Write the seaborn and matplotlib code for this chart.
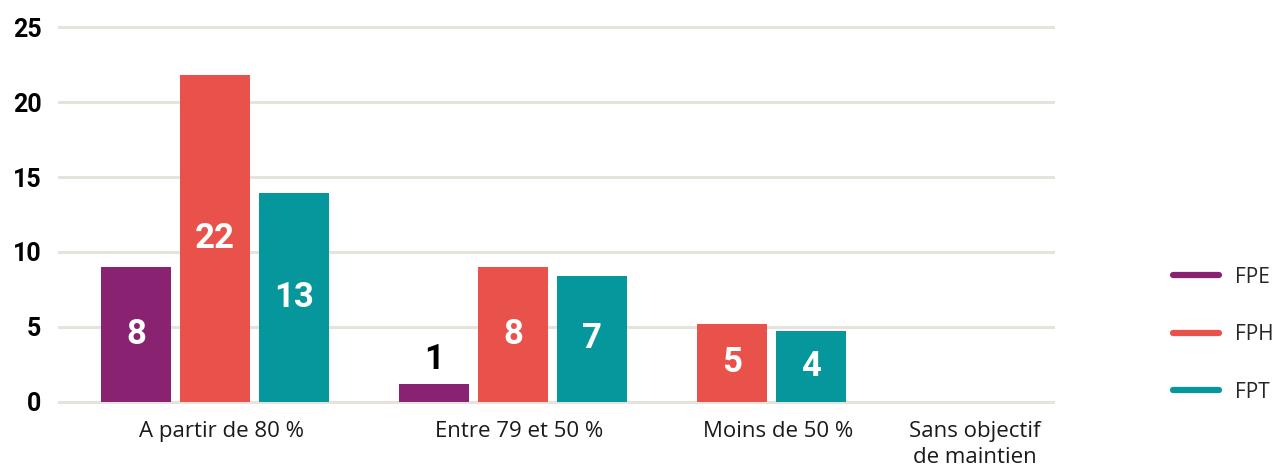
import matplotlib
matplotlib.use("Agg")
import matplotlib.pyplot as plt
from matplotlib.lines import Line2D
import pandas as pd
import seaborn as sns

# Values (bar heights differ a bit from the printed labels)
categories = ["A partir de 80 %", "Entre 79 et 50 %", "Moins de 50 %", "Sans objectif\nde maintien"]
series = ["FPE", "FPH", "FPT"]
fpe_heights = [9.0, 1.2, None, None]
fph_heights = [21.8, 9.0, 5.2, None]
fpt_heights = [13.95, 8.4, 4.75, None]
fpe_labels = [8, 1, None, None]
fph_labels = [22, 8, 5, None]
fpt_labels = [13, 7, 4, None]

colors = {"FPE": "#8a2272", "FPH": "#e9524a", "FPT": "#05979c"}
grid_color = "#e6e3dc"

heights = {"FPE": fpe_heights, "FPH": fph_heights, "FPT": fpt_heights}
labels = {"FPE": fpe_labels, "FPH": fph_labels, "FPT": fpt_labels}

# Missing bars are dropped and the remaining ones packed together,
# with an extra gap between groups.
group_gap = 0.77
rows = []
tick_pos = []
cursor = 0.0
for i, cat in enumerate(categories):
    slots = []
    for s in series:
        h = heights[s][i]
        if h is None:
            continue
        rows.append({"pos": cursor, "value": h, "serie": s, "label": labels[s][i]})
        slots.append(cursor)
        cursor += 1
    if slots:
        tick_pos.append(sum(slots) / len(slots) + 0.08)
    else:
        tick_pos.append(cursor + 0.3)
        cursor += 1
    cursor += group_gap
df = pd.DataFrame(rows)

sns.set_theme(style="white")
plt.rcParams["font.family"] = ["Roboto", "DejaVu Sans"]

fig = plt.figure(figsize=(12.78, 4.68), dpi=100)
ax = fig.add_axes([0.0454, 0.1363, 0.7801, 0.8107])

sns.barplot(data=df, x="pos", y="value", hue="serie", hue_order=series,
            palette=colors, native_scale=True, dodge=False, width=0.886,
            errorbar=None, legend=False, saturation=1, linewidth=0, ax=ax, zorder=3)

for _, r in df.iterrows():
    if r["value"] < 3:
        ax.text(r["pos"], r["value"] + 0.5, str(r["label"]), ha="center", va="bottom",
                fontsize=25, fontweight="bold", color="black", zorder=4)
    else:
        ax.text(r["pos"], r["value"] / 2, str(r["label"]), ha="center", va="center",
                fontsize=25, fontweight="bold", color="white", zorder=4)

ax.set_ylim(-0.15, 25.15)
ax.set_xlim(-0.987, 11.63)
ax.set_yticks([0, 5, 10, 15, 20, 25])
ax.yaxis.grid(True, color=grid_color, linewidth=2.2, zorder=0)
ax.set_axisbelow(True)
for sp in ax.spines.values():
    sp.set_visible(False)
ax.tick_params(axis="both", length=0)
ax.tick_params(axis="y", pad=12)
for t in ax.get_yticklabels():
    t.set_fontsize(18)
    t.set_fontweight("bold")
    t.set_color("black")

ax.set_xticks(tick_pos)
ax.set_xticklabels(categories, fontsize=16, color="#1a1a1a", family=["Open Sans", "DejaVu Sans"],
                   linespacing=1.3)
ax.tick_params(axis="x", pad=12)
ax.set_xlabel("")
ax.set_ylabel("")

handles = [Line2D([0], [0], color=colors[s], lw=4.5, solid_capstyle="round") for s in series]
leg = fig.legend(handles, series, loc="center left", bbox_to_anchor=(0.903, 0.285),
                 frameon=False, handlelength=2.2, handletextpad=0.8, labelspacing=1.75,
                 prop={"family": "Open Sans", "size": 15})

fig.savefig("out.png", dpi=100)
